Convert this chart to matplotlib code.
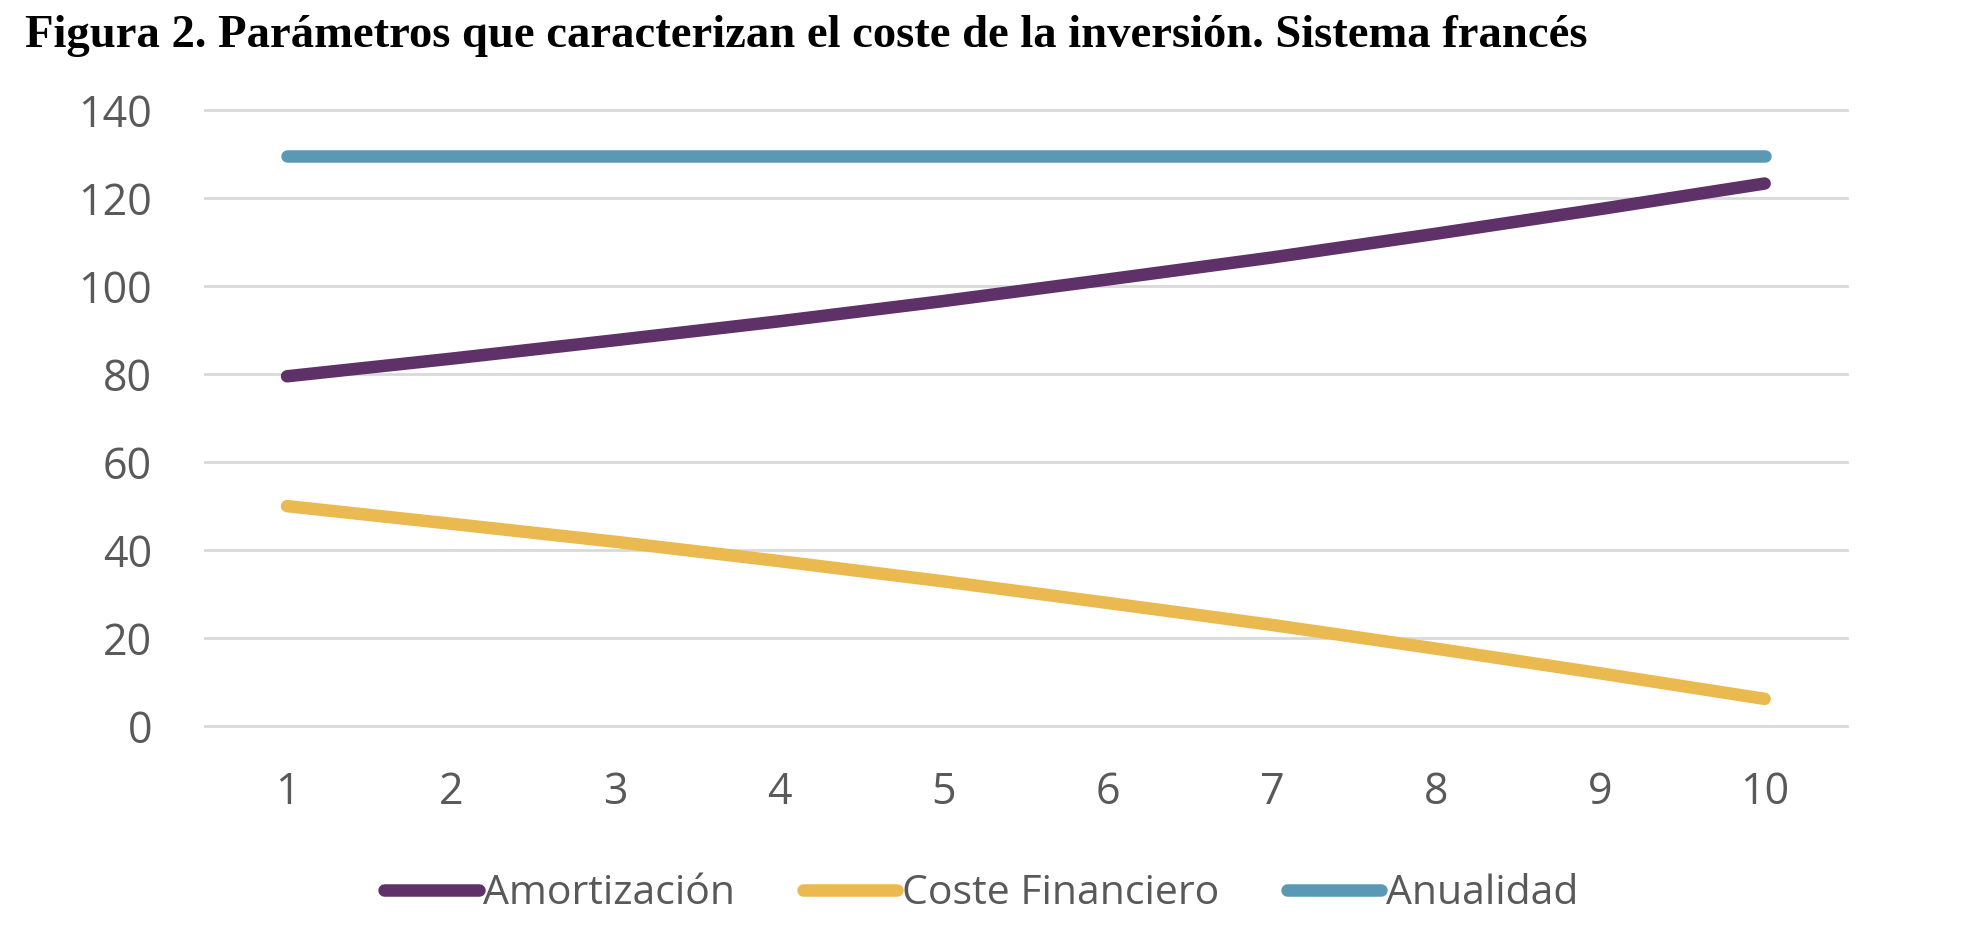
import numpy as np
import matplotlib.pyplot as plt

# Datos (sistema frances, 10 periodos)
periodos = [1, 2, 3, 4, 5, 6, 7, 8, 9, 10]
amortizacion = [79.5, 83.5, 87.7, 92.0, 96.6, 101.5, 106.5, 111.9, 117.5, 123.3]
coste_financiero = [50.0, 46.0, 41.9, 37.5, 32.9, 28.0, 23.0, 17.6, 12.0, 6.2]
anualidad = [129.5, 129.5, 129.5, 129.5, 129.5, 129.5, 129.5, 129.5, 129.5, 129.5]
yticks = [0, 20, 40, 60, 80, 100, 120, 140]

c_amort = '#5f3169'
c_coste = '#eab950'
c_anual = '#5a99b4'
gris = '#595959'

fig = plt.figure(figsize=(19.8, 9.5), dpi=100)
ax = fig.add_axes([0.1035, 0.2356, 0.8292, 0.6486])

lw = 9
ax.plot(periodos, amortizacion, color=c_amort, lw=lw, solid_capstyle='round', label='Amortización', zorder=3)
ax.plot(periodos, coste_financiero, color=c_coste, lw=lw, solid_capstyle='round', label='Coste Financiero', zorder=3)
ax.plot(periodos, anualidad, color=c_anual, lw=lw, solid_capstyle='round', label='Anualidad', zorder=3)

ax.set_xlim(0.5, 10.5)
ax.set_ylim(0, 140)
ax.set_xticks(periodos)
ax.set_yticks(yticks)

for s in ax.spines.values():
    s.set_visible(False)
ax.grid(axis='y', color='#d9d9d9', lw=2)
for g in ax.yaxis.get_gridlines():
    g.set_clip_on(False)
ax.set_axisbelow(True)

ax.tick_params(length=0, labelsize=31, labelcolor=gris)
ax.tick_params(axis='y', pad=38)
ax.tick_params(axis='x', pad=32)
for t in ax.get_xticklabels() + ax.get_yticklabels():
    t.set_fontfamily('Open Sans')

fig.text(0.0126, 0.962, 'Figura 2. Parámetros que caracterizan el coste de la inversión. Sistema francés',
         fontfamily='Liberation Serif', fontweight='bold', fontsize=33.6, va='center', ha='left')

leg = fig.legend(loc='center', bbox_to_anchor=(0.4957, 1 - 894 / 950), ncol=3, frameon=False,
                 prop={'family': 'Open Sans', 'size': 29.5}, labelcolor=gris,
                 handlelength=2.3, handletextpad=0.12, columnspacing=1.65)

fig.savefig('out.png', dpi=100)
